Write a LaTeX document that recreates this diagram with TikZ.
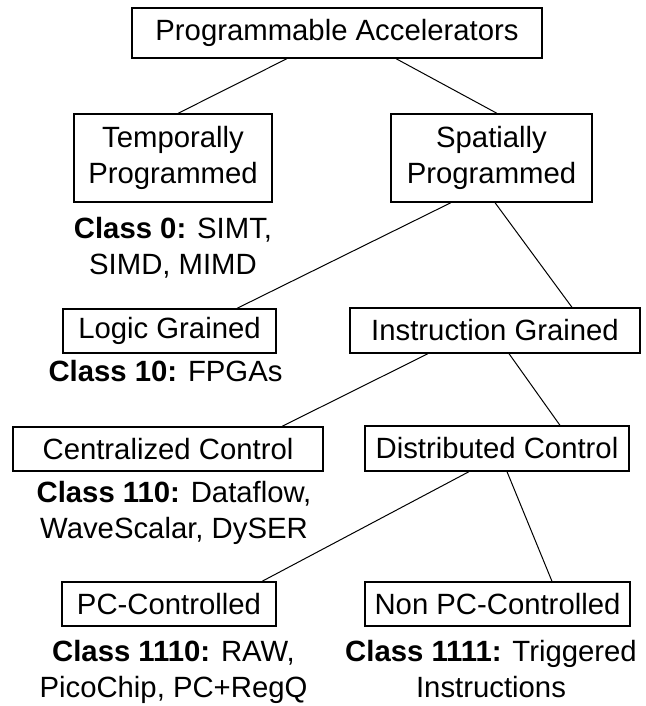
\documentclass[tikz,border=0pt]{standalone}
\usepackage{fontspec}
\setmainfont{Liberation Sans}
\newcommand{\labelfont}{\fontsize{29.3}{36}\selectfont}
\begin{document}
\begin{tikzpicture}[x=1pt,y=-1pt,
  box/.style={draw, line width=1.3pt, inner sep=0pt, font=\labelfont, align=center},
  lab/.style={font=\labelfont, align=center, inner sep=0pt, anchor=base},
  link/.style={line width=1pt}]
\useasboundingbox (0,0) rectangle (645,706);

% category boxes
\node[box, minimum width=410pt, minimum height=50pt] (top) at (337,33) {Programmable Accelerators};
\node[box, minimum width=198pt, minimum height=88pt] (temp) at (173,158) {Temporally\\Programmed};
\node[box, minimum width=201pt, minimum height=88pt] (spat) at (491.5,158) {Spatially\\Programmed};
\node[box, minimum width=213pt, minimum height=44pt] (logic) at (169.5,331) {Logic Grained};
\node[box, minimum width=290pt, minimum height=45pt] (instr) at (495,330.5) {Instruction Grained};
\node[box, minimum width=310pt, minimum height=44pt] (central) at (168,449) {Centralized Control};
\node[box, minimum width=264pt, minimum height=45pt] (distr) at (497,448.5) {Distributed Control};
\node[box, minimum width=214pt, minimum height=44pt] (pc) at (169,604) {PC-Controlled};
\node[box, minimum width=265pt, minimum height=44pt] (npc) at (497.5,604) {Non PC-Controlled};

% class labels (base anchor sits on the last line's baseline)
\node[lab] (c0) at (173,274) {\textbf{Class 0:} SIMT,\\SIMD, MIMD};
\node[lab] (c10) at (165.5,381) {\textbf{Class 10:} FPGAs};
\node[lab] (c110) at (174,538) {\textbf{Class 110:} Dataflow,\\WaveScalar, DySER};
\node[lab] (c1110) at (173.5,697) {\textbf{Class 1110:} RAW,\\PicoChip, PC+RegQ};
\node[lab] (c1111) at (491,697) {\textbf{Class 1111:} Triggered\\Instructions};

% tree edges
\draw[link] ([xshift=-50pt]top.south) -- ([xshift=5pt]temp.north);
\draw[link] ([xshift=59pt]top.south) -- ([xshift=5.5pt]spat.north);
\draw[link] ([xshift=-40.5pt]spat.south) -- ([xshift=67.5pt]logic.north);
\draw[link] ([xshift=3.5pt]spat.south) -- ([xshift=77pt]instr.north);
\draw[link] ([xshift=-67pt]instr.south) -- ([xshift=114pt]central.north);
\draw[link] ([xshift=14pt]instr.south) -- ([xshift=63pt]distr.north);
\draw[link] ([xshift=-28pt]distr.south) -- ([xshift=93pt]pc.north);
\draw[link] ([xshift=10pt]distr.south) -- ([xshift=54.5pt]npc.north);
\end{tikzpicture}
\end{document}
